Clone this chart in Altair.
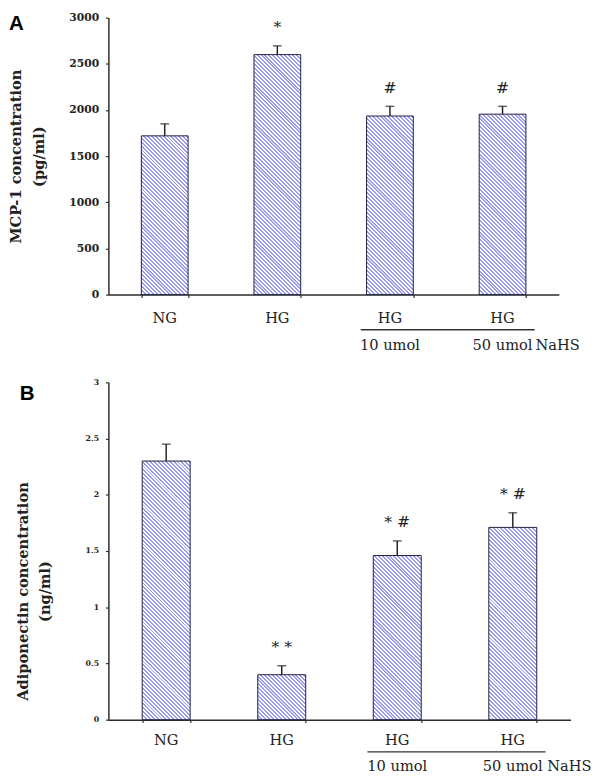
import math
import altair as alt
import pandas as pd

# ---- data ----
categories = ["NG", "HG", "HG + 10 umol NaHS", "HG + 50 umol NaHS"]
label_top = ["NG", "HG", "HG", "HG"]
label_bottom = ["", "", "10 umol", "50 umol"]

mcp1_mean = [1720, 2600, 1935, 1955]
mcp1_sem = [130, 95, 105, 85]
mcp1_marks = ["", "*", "#", "#"]
mcp1_ticks = [0, 500, 1000, 1500, 2000, 2500, 3000]

adipo_mean = [2.30, 0.40, 1.46, 1.71]
adipo_sem = [0.15, 0.08, 0.13, 0.13]
adipo_marks = ["", "* *", "* #", "* #"]
adipo_ticks = [0, 0.5, 1, 1.5, 2, 2.5, 3]

# ---- style ----
PAD_IN = 0.585
STRIPE = "#9a9aee"
PAPER = "#ffffff"
INK = "#222222"
SERIF = "DejaVu Serif"


def stripes(w, h, period=4.0, share=0.5):
    """diagonal '\\' hatching (fixed horizontal period in px) as a hard-stop
    linear gradient expressed in bounding-box units"""
    n = max(1, math.ceil((w + h) / period))
    k = n * period / (w * w + h * h)
    stops = []
    for i in range(n):
        a, m, b = i / n, (i + share) / n, (i + 1) / n
        stops += [
            {"offset": a, "color": STRIPE},
            {"offset": m, "color": STRIPE},
            {"offset": m, "color": PAPER},
            {"offset": b, "color": PAPER},
        ]
    return {"gradient": "linear", "x1": 0, "y1": 1, "x2": k * w, "y2": 1 - k * h, "stops": stops}


def panel(letter, mean, sem, marks, ticks, ymax, title, width, height,
          title_x, title_y, label_size, offs, letter_x, letter_y):
    df = pd.DataFrame({
        "group": categories,
        "top": label_top,
        "bottom": label_bottom,
        "mean": mean,
        "upper": [m + s for m, s in zip(mean, sem)],
        "mark": marks,
    })
    step = width / len(categories)
    bw = step * (1 - PAD_IN)

    xaxis = alt.Axis(labels=False, title=None, tickBand="extent", tickSize=3, grid=False)
    xscale = alt.Scale(domain=categories, paddingInner=PAD_IN, paddingOuter=PAD_IN / 2)

    def X(field="group", **kw):
        return alt.X(f"{field}:N", scale=xscale, axis=xaxis, **kw)

    ax_kw = dict(values=ticks, title=title, titleFont=SERIF, titleFontSize=15,
                 titleFontWeight="bold", titleLineHeight=23, titleX=title_x,
                 titleColor=INK, labelFont=SERIF, labelFontWeight="bold",
                 labelFontSize=label_size, labelPadding=7, labelColor=INK,
                 labelExpr="'' + datum.value", tickSize=3, grid=False)
    if title_y is not None:
        ax_kw["titleY"] = title_y
    yaxis = alt.Axis(**ax_kw)
    yscale = alt.Scale(domain=[0, ymax], nice=False)

    def Y(field):
        return alt.Y(f"{field}:Q", scale=yscale, axis=yaxis)

    layers = []
    for g, m in zip(categories, mean):
        layers.append(
            alt.Chart(df).transform_filter(alt.datum.group == g)
            .mark_bar(fill=stripes(bw, m / ymax * height), stroke="#1e1e3c", strokeWidth=1)
            .encode(x=X(), y=Y("mean"))
        )
    layers.append(alt.Chart(df).mark_rule(color=INK, strokeWidth=1.5)
                  .encode(x=X(), y=Y("mean"), y2="upper:Q"))
    layers.append(alt.Chart(df).mark_tick(color=INK, size=9, thickness=1.5)
                  .encode(x=X(), y=Y("upper")))
    layers.append(alt.Chart(df).mark_text(font=SERIF, fontSize=16, dy=-19, baseline="middle", color=INK)
                  .encode(x=X(), y=Y("upper"), text="mark:N"))
    layers.append(alt.Chart(df).mark_text(font=SERIF, fontSize=15, baseline="middle", color=INK)
                  .encode(x=X(), y=alt.value(height + offs[0]), text="top:N"))
    layers.append(alt.Chart(df).mark_text(font=SERIF, fontSize=15, baseline="middle", color=INK)
                  .encode(x=X(), y=alt.value(height + offs[2]), text="bottom:N"))
    span = pd.DataFrame({"start": [categories[2]], "end": [categories[3]]})
    layers.append(alt.Chart(span).mark_rule(color="#333333", strokeWidth=1.5, xOffset=-6, x2Offset=9)
                  .encode(x=X("start", bandPosition=0),
                          x2=alt.X2("end", bandPosition=1),
                          y=alt.value(height + offs[1])))
    layers.append(alt.Chart(pd.DataFrame({"t": ["NaHS"]}))
                  .mark_text(font=SERIF, fontSize=15, align="left", baseline="middle", color=INK)
                  .encode(text="t:N", x=alt.value(width - 24), y=alt.value(height + offs[2])))
    layers.append(alt.Chart(pd.DataFrame({"t": [letter]}))
                  .mark_text(font="Liberation Sans", fontWeight="bold", fontSize=21,
                             align="left", baseline="top", color="#000000")
                  .encode(text="t:N", x=alt.value(letter_x), y=alt.value(letter_y)))
    return alt.layer(*layers).properties(width=width, height=height)


chart_a = panel("A", mcp1_mean, mcp1_sem, mcp1_marks, mcp1_ticks, 3000,
                ["MCP-1 concentration", "(pg/ml)"], 462, 284,
                -87, None, 11, (24, 36, 52), -102, -4)
chart_b = panel("B", adipo_mean, adipo_sem, adipo_marks, adipo_ticks, 3,
                ["Adiponectin concentration", "(ng/ml)"], 474, 346,
                -80, 214, 8, (21, 33, 48), -91, 1)

chart = (
    alt.concat(chart_a, chart_b, columns=1, spacing=26, align="none")
    .properties(padding={"top": -6, "left": 0, "right": 0, "bottom": 0}, background="white")
    .configure_view(stroke=None)
    .configure_axis(domainColor="#2b2b2b", domainWidth=1.5, tickColor="#2b2b2b", tickWidth=1.2)
)

chart.save("out.html", embed_options={"renderer": "svg", "actions": False})
